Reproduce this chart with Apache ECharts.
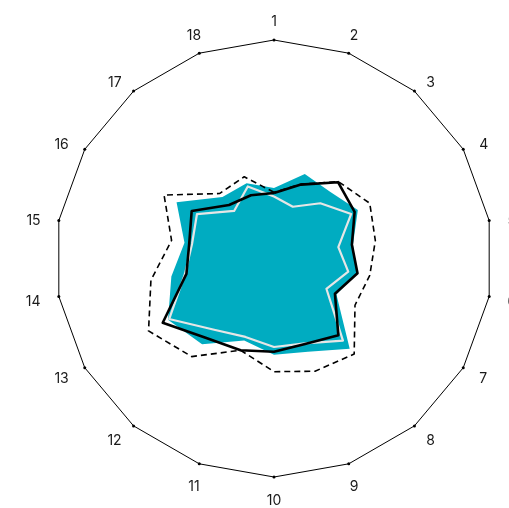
<!DOCTYPE html>
<html>
<head>
<meta charset="utf-8">
<script src="https://cdn.jsdelivr.net/npm/echarts@6/dist/echarts.min.js"></script>
<style>
html,body{margin:0;padding:0;background:#fff;}
#chart{width:509px;height:508px;}
</style>
</head>
<body>
<div id="chart"></div>
<script>
// Indicators 1..18, clockwise from top
const categories = ['1','2','3','4','5','6','7','8','9','10','11','12','13','14','15','16','17','18'];
const maxValue = 100;
const tealArea   = [32.3, 41.2, 39.9, 44.3, 36.7, 38.5, 33.0, 53.9, 45.4, 44.0, 39.9, 51.2, 56.0, 47.7, 41.6, 51.5, 36.7, 36.7];
const whiteLine  = [28.4, 25.2, 33.0, 40.8, 29.9, 34.5, 27.7, 49.1, 41.3, 40.5, 38.2, 42.6, 55.4, 41.4, 38.1, 40.7, 28.4, 35.1];
const dashedLine = [30.3, 36.2, 45.9, 50.6, 47.1, 44.5, 42.8, 57.1, 54.9, 51.8, 44.7, 58.6, 66.3, 57.2, 47.6, 58.1, 38.8, 39.8];
const blackLine  = [30.0, 36.0, 45.6, 42.6, 36.2, 38.8, 32.2, 45.8, 41.6, 42.7, 44.7, 47.7, 58.8, 40.7, 39.4, 43.5, 32.0, 30.8];

// ECharts radar runs counter-clockwise: reorder so that it reads clockwise
function cw(arr){ return [arr[0]].concat(arr.slice(1).reverse()); }

// ---- label styling: centred above/below near the poles, side-anchored elsewhere ----
const FONT_SIZE = 14, FONT = 'Inter, sans-serif', LH = 14;
const NAME_GAP = -10;   // anchor pulled inwards, padding pushes text out
const GAP = 15.4, GAP_X = 18.5, HALF_H = 5.5, SHIFT_Y = 3;
const mctx = document.createElement('canvas').getContext('2d');
mctx.font = FONT_SIZE + 'px Inter';
const orderedNames = cw(categories);
const rich = {};
const keyOf = {};
orderedNames.forEach((name, j) => {
  const i = categories.indexOf(name);
  const th = i * Math.PI * 2 / categories.length;
  const s = Math.sin(th), c = Math.cos(th);
  const tw = mctx.measureText(name).width;
  const Ax = NAME_GAP * s, Ay = -NAME_GAP * c;
  let dx, dy;
  if (Math.abs(s) < 0.5) { dx = GAP * s; dy = -GAP * c - Math.sign(c) * HALF_H + SHIFT_Y; }
  else { dx = GAP_X * s + Math.sign(s) * tw / 2; dy = -GAP * c + SHIFT_Y; }
  let pt = 0, pr = 0, pb = 0, pl = 0;
  if (Math.abs(s) < 1e-6) {
    // vertical padding only shifts the glyph by half its amount
    if (c > 0) pb = 2 * (Ay - dy - LH / 2); else pt = 2 * (dy - Ay - LH / 2);
  } else {
    if (s > 0) pl = dx - Ax - tw / 2; else pr = Ax - dx - tw / 2;
    const v = 2 * (dy - Ay);
    if (v > 0) pt = v; else pb = -v;
  }
  const key = 'n' + j;
  keyOf[name] = key;
  rich[key] = {padding: [pt, pr, pb, pl].map(v => Math.max(0, v)), lineHeight: LH,
               fontSize: FONT_SIZE, fontFamily: FONT, color: '#1a1a1a'};
});

const chart = echarts.init(document.getElementById('chart'), null, {renderer:'canvas'});
chart.setOption({
  animation:false,
  backgroundColor:'#ffffff',
  radar:{
    center:[274,258.5],
    radius:218.5,
    startAngle:90,
    shape:'polygon',
    splitNumber:1,
    nameGap:NAME_GAP,
    indicator: orderedNames.map(n => ({name:n, max:maxValue, min:0})),
    axisName:{color:'#1a1a1a', fontSize:FONT_SIZE, fontFamily:FONT,
      formatter: (name) => '{' + keyOf[name] + '|' + name + '}', rich: rich},
    axisLine:{show:false},
    axisTick:{show:false},
    axisLabel:{show:false},
    splitArea:{show:false},
    splitLine:{show:true, lineStyle:{color:'#000', width:1}}
  },
  series:[{
    type:'radar',
    silent:true,
    data:[
      {value: cw(categories.map(()=>maxValue)), symbol:'circle', symbolSize:3,
       itemStyle:{color:'#000'}, lineStyle:{width:0, opacity:0}},
      {value: cw(tealArea), symbol:'none', lineStyle:{width:0, opacity:0},
       areaStyle:{color:'#00acc1', opacity:1}},
      {value: cw(whiteLine), symbol:'none', lineStyle:{color:'#e6e6e6', width:2.2}},
      {value: cw(dashedLine), symbol:'none', lineStyle:{color:'#000', width:1.6, type:[6,4]}},
      {value: cw(blackLine), symbol:'none', lineStyle:{color:'#000', width:2.6}}
    ]
  }]
});
</script>
</body>
</html>
